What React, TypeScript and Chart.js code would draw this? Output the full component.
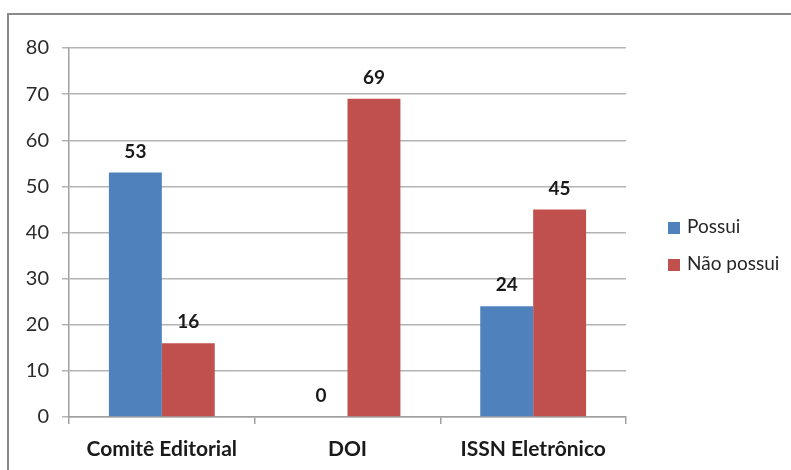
import React, { useEffect, useRef } from "react";
import { Chart, registerables } from "chart.js";

Chart.register(...registerables);

const categories = ["Comitê Editorial", "DOI", "ISSN Eletrônico"];
const possui = [53, 0, 24];
const naoPossui = [16, 69, 45];
const seriesNames = ["Possui", "Não possui"];
const yTicks = [0, 10, 20, 30, 40, 50, 60, 70, 80];

const FONT = "Lato, 'Open Sans', sans-serif";

// Value printed above each bar
const valueLabels = {
  id: "valueLabels",
  afterDatasetsDraw(chart: any) {
    const { ctx } = chart;
    ctx.save();
    ctx.font = `bold 19px ${FONT}`;
    ctx.fillStyle = "#1a1a1a";
    ctx.textAlign = "center";
    ctx.textBaseline = "middle";
    chart.data.datasets.forEach((ds: any, i: number) => {
      const meta = chart.getDatasetMeta(i);
      meta.data.forEach((bar: any, j: number) => {
        ctx.fillText(String(ds.data[j]), bar.x, bar.y - 21);
      });
    });
    ctx.restore();
  },
};

// Legend to the right of the plot, vertically stacked
const sideLegend = {
  id: "sideLegend",
  afterDraw(chart: any) {
    const { ctx, chartArea } = chart;
    const x = chartArea.right + 42;
    const y0 = chartArea.top + 180;
    const step = 37;
    const box = 12;
    ctx.save();
    ctx.font = `19px ${FONT}`;
    ctx.textBaseline = "middle";
    ctx.textAlign = "left";
    chart.data.datasets.forEach((ds: any, i: number) => {
      const y = y0 + i * step;
      ctx.fillStyle = ds.backgroundColor;
      ctx.fillRect(x, y - box / 2, box, box);
      ctx.fillStyle = "#262626";
      ctx.fillText(ds.label, x + box + 7, y - 1);
    });
    ctx.restore();
  },
};

export default function App() {
  const ref = useRef<HTMLCanvasElement | null>(null);

  useEffect(() => {
    if (!ref.current) return;
    const chart = new Chart(ref.current, {
      type: "bar",
      data: {
        labels: categories,
        datasets: [
          {
            label: seriesNames[0],
            data: possui,
            backgroundColor: "#4F81BD",
            categoryPercentage: 0.57,
            barPercentage: 1,
          },
          {
            label: seriesNames[1],
            data: naoPossui,
            backgroundColor: "#C0504D",
            categoryPercentage: 0.57,
            barPercentage: 1,
          },
        ],
      },
      options: {
        animation: false,
        responsive: false,
        layout: { padding: { left: 0, top: 48, right: 165, bottom: 0 } },
        plugins: {
          tooltip: { enabled: false },
          legend: { display: false },
        },
        scales: {
          y: {
            min: 0,
            max: 80,
            afterBuildTicks: (scale: any) => {
              scale.ticks = yTicks.map((v) => ({ value: v }));
            },
            afterFit: (scale: any) => {
              scale.width = 69;
            },
            ticks: {
              color: "#2b2b2b",
              padding: 13,
              font: { family: FONT, size: 20 },
            },
            grid: { color: "#b3b3b3", tickLength: 7, lineWidth: 1.5 },
            border: { color: "#a0a0a0", width: 1.5 },
          },
          x: {
            afterFit: (scale: any) => {
              scale.height = 470 - 417;
            },
            ticks: {
              color: "#1a1a1a",
              padding: 13,
              font: { family: FONT, size: 21, weight: "bold" },
            },
            grid: {
              offset: true,
              drawOnChartArea: false,
              drawTicks: true,
              tickLength: 7,
              color: "#a0a0a0",
              lineWidth: 1.5,
            },
            border: { color: "#a0a0a0", width: 1.5 },
          },
        },
      },
      plugins: [valueLabels, sideLegend],
    });
    return () => chart.destroy();
  }, []);

  return (
    <div
      style={{
        position: "absolute",
        left: 0,
        top: 0,
        width: 791,
        height: 470,
        overflow: "hidden",
        background: "#fff",
      }}
    >
      <div
        style={{
          position: "absolute",
          left: 7,
          top: 13,
          width: 900,
          height: 600,
          borderLeft: "2px solid #8a8a8a",
          borderTop: "2px solid #8a8a8a",
        }}
      />
      <canvas
        ref={ref}
        width={791}
        height={470}
        style={{ position: "absolute", left: 0, top: 0 }}
      />
    </div>
  );
}
